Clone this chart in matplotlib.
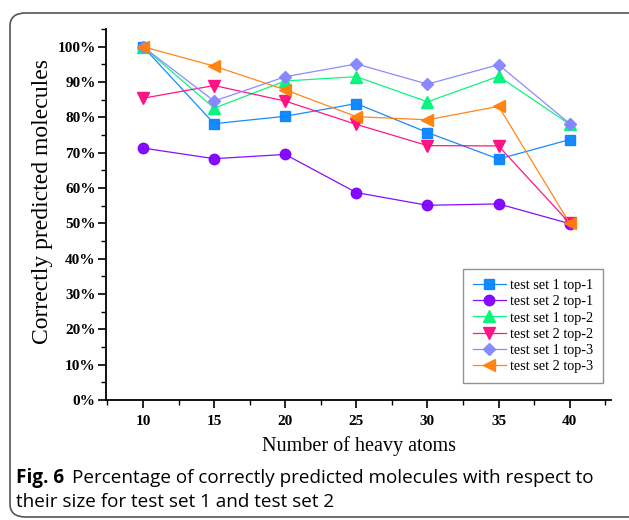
import numpy as np
import matplotlib
matplotlib.use('Agg')
import matplotlib.pyplot as plt
from matplotlib.patches import FancyBboxPatch
from matplotlib.ticker import MultipleLocator, FuncFormatter

# -----------------------------
# Data
# -----------------------------
heavy_atoms = [10, 15, 20, 25, 30, 35, 40]

set1_top1 = [100.0, 78.2, 80.3, 83.9, 75.7, 68.2, 73.7]
set2_top1 = [71.3, 68.3, 69.5, 58.7, 55.1, 55.5, 49.9]
set1_top2 = [100.0, 82.6, 90.3, 91.5, 84.4, 91.6, 78.0]
set2_top2 = [85.4, 89.0, 84.6, 78.0, 72.0, 71.9, 50.0]
set1_top3 = [100.0, 84.6, 91.5, 95.1, 89.4, 94.9, 78.2]
set2_top3 = [100.0, 94.5, 87.8, 80.2, 79.3, 83.1, 50.0]

series_labels = ['test set 1 top-1', 'test set 2 top-1', 'test set 1 top-2',
                 'test set 2 top-2', 'test set 1 top-3', 'test set 2 top-3']
series_values = [set1_top1, set2_top1, set1_top2, set2_top2, set1_top3, set2_top3]
series_colors = ['#0a84ff', '#8000ff', '#00f57a', '#ff0a7f', '#8585ff', '#ff800a']
series_markers = ['s', 'o', '^', 'v', 'D', '<']
marker_sizes = [7, 7.5, 8, 8, 6.5, 8.5]

caption_bold = 'Fig. 6'
caption_line1 = 'Percentage of correctly predicted molecules with respect to'
caption_line2 = 'their size for test set 1 and test set 2'

# -----------------------------
# Figure
# -----------------------------
W, H = 629, 520
fig = plt.figure(figsize=(W / 100, H / 100), dpi=100)
ax = fig.add_axes([106 / W, 1 - 400 / H, (611 - 106) / W, (400 - 29) / H])

for vals, lab, col, mk, ms in zip(series_values, series_labels, series_colors,
                                  series_markers, marker_sizes):
    ax.plot(heavy_atoms, np.array(vals) / 100, color=col, marker=mk, markersize=ms,
            linewidth=0.9, label=lab, alpha=0.95)

ax.set_xlim(7.4, 42.9)
ax.set_ylim(0, 1.05)
ax.xaxis.set_major_locator(MultipleLocator(5))
ax.xaxis.set_minor_locator(MultipleLocator(2.5))
ax.yaxis.set_major_locator(MultipleLocator(0.1))
ax.yaxis.set_minor_locator(MultipleLocator(0.05))
ax.yaxis.set_major_formatter(FuncFormatter(lambda v, p: f'{v * 100:.0f}%'))

for s in ['top', 'right']:
    ax.spines[s].set_visible(False)
for s in ['left', 'bottom']:
    ax.spines[s].set_linewidth(1.3)
    ax.spines[s].set_color('black')

ax.tick_params(which='major', direction='out', length=6, width=1.2)
ax.tick_params(which='minor', direction='out', length=3.5, width=1.0)
ax.tick_params(axis='x', which='major', pad=4.5)
ax.tick_params(axis='y', which='major', pad=1.5)
for t in ax.get_xticklabels() + ax.get_yticklabels():
    t.set_fontfamily('Liberation Serif')
    t.set_fontweight('bold')
    t.set_fontsize(11)

ax.set_xlabel('Number of heavy atoms', fontfamily='Liberation Serif', fontsize=14.5, labelpad=6)
ax.set_ylabel('Correctly predicted molecules', fontfamily='Liberation Serif', fontsize=17)
ax.yaxis.set_label_coords(-0.105, 0.536)

leg = ax.legend(loc='lower right', bbox_to_anchor=((603 - 106) / 505, (400 - 383) / 371),
                prop={'family': 'Liberation Serif', 'size': 10.3}, frameon=True,
                fancybox=False, edgecolor='#777777', handlelength=2.3,
                labelspacing=0.22, borderpad=0.7, handletextpad=0.3, borderaxespad=0)
leg.get_frame().set_linewidth(1.0)

# rounded border around the figure panel
box = FancyBboxPatch((10 / W, 1 - 517 / H), (645 - 10) / W, (517 - 13) / H,
                     boxstyle='round,pad=0,rounding_size=0.025', transform=fig.transFigure,
                     facecolor='none', edgecolor='#555555', linewidth=1.2, clip_on=False)
fig.patches.append(box)

# caption
t1 = fig.text(16 / W, 1 - 483 / H, caption_bold, fontfamily='Open Sans', fontweight='bold',
              fontsize=13.6, va='baseline')
fig.canvas.draw()
bb = t1.get_window_extent()
fig.text((bb.x1 + 8) / W, 1 - 483 / H, caption_line1, fontfamily='Open Sans',
         fontsize=13.6, va='baseline')
fig.text(16 / W, 1 - 507 / H, caption_line2, fontfamily='Open Sans',
         fontsize=13.6, va='baseline')

fig.savefig('out.png', dpi=100)
